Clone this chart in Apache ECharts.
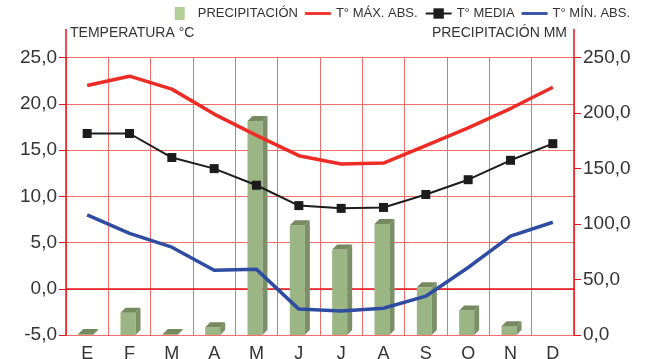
<!DOCTYPE html>
<html>
<head>
<meta charset="utf-8">
<script src="https://cdn.jsdelivr.net/npm/echarts@6/dist/echarts.min.js"></script>
<style>
html,body{margin:0;padding:0;background:#fff;}
#chart{width:649px;height:359px;}
</style>
</head>
<body>
<div id="chart"></div>
<script>
/* climograma: temperaturas + precipitación */
var months = ['E','F','M','A','M','J','J','A','S','O','N','D'];
var precip = [1, 20, 1, 7, 193, 99, 77, 100, 43, 22, 8, 0];
var tMax = [22.0, 23.0, 21.6, 18.9, 16.6, 14.4, 13.5, 13.6, 15.5, 17.4, 19.5, 21.8];
var tMedia = [16.8, 16.8, 14.2, 13.0, 11.2, 9.0, 8.7, 8.8, 10.2, 11.8, 13.9, 15.7];
var tMin = [8.0, 6.0, 4.5, 2.0, 2.1, -2.2, -2.4, -2.1, -0.8, 2.3, 5.7, 7.2];

var FONT = 'Liberation Sans';
var GRID_RED = '#f36b6b';
var AXIS_RED = '#e8141c';
var LINE_ICON = 'path://M0,0h30v3.2h-30z';

function coma(v){
	return v.toFixed(1).replace('.', ',');
}

(function(){
	var myChart = echarts.init(document.getElementById('chart'));

	// barra con aspecto 3D
	function renderBar(params, api){
		var v = api.value(1);
		if (!v) return;
		var top = api.coord([api.value(0), v]);
		var base = api.coord([api.value(0), 0]);
		var x0 = top[0] - 9, x1 = top[0] + 6;
		var dx = 5, dy = 5;
		var yt = top[1], yb = base[1];
		return {
			type: 'group',
			children: [
				{type:'rect', shape:{x:x0, y:yt, width:x1-x0, height:yb-yt}, style:{fill:'#9bb584'}},
				{type:'polygon', shape:{points:[[x1,yt],[x1+dx,yt-dy],[x1+dx,yb-dy],[x1,yb]]}, style:{fill:'#7b9067'}},
				{type:'polygon', shape:{points:[[x0,yt],[x0+dx,yt-dy],[x1+dx,yt-dy],[x1,yt]]}, style:{fill:'#76895f'}}
			]
		};
	}

	var option = {
		animation: false,
		textStyle: {fontFamily: FONT},
		legend: {
			top: 2,
			right: 14,
			itemGap: 7,
			itemWidth: 26,
			itemHeight: 13,
			textStyle: {color:'#333', fontSize:13, fontFamily: FONT},
			data: [
				{name:'PRECIPITACIÓN', icon:'path://M0,0h10v13h-10z', itemStyle:{color:'#b3cf98'}},
				{name:'T° MÁX. ABS.', icon: LINE_ICON},
				{name:'T° MEDIA'},
				{name:'T° MÍN. ABS.', icon: LINE_ICON}
			]
		},
		grid: {left: 66, right: 75, top: 57.7, bottom: 24, outerBoundsMode: 'none', containLabel: false},
		xAxis: [{
			type: 'category',
			data: months,
			boundaryGap: true,
			axisLine: {lineStyle:{color: AXIS_RED, width: 1.5}},
			axisTick: {show: false},
			axisLabel: {color:'#333', fontSize:18, margin:10, fontFamily: FONT},
			splitLine: {show: true, lineStyle:{color: GRID_RED, width: 1}}
		}],
		yAxis: [{
			type: 'value',
			min: -5, max: 25, interval: 5,
			axisLine: {show: true, lineStyle:{color: AXIS_RED, width: 1.5}},
			axisTick: {show: true, length: 7, lineStyle:{color: AXIS_RED}},
			axisLabel: {color:'#333', fontSize:19, margin:9, formatter: coma, fontFamily: FONT},
			splitLine: {show: true, lineStyle:{color: GRID_RED, width: 1}}
		}, {
			type: 'value',
			min: 0, max: 250, interval: 50,
			position: 'right',
			axisLine: {show: true, lineStyle:{color: AXIS_RED, width: 1.5}},
			axisTick: {show: true, length: 7, lineStyle:{color: AXIS_RED}},
			axisLabel: {color:'#333', fontSize:19, margin:9, formatter: coma, fontFamily: FONT},
			splitLine: {show: false}
		}],
		graphic: [
			{type:'line', shape:{x1:66, y1:29, x2:66, y2:58}, style:{stroke: AXIS_RED, lineWidth:1.5}},
			{type:'line', shape:{x1:574, y1:29, x2:574, y2:58}, style:{stroke: AXIS_RED, lineWidth:1.5}},
			{type:'text', left:70, top:26, style:{text:'TEMPERATURA °C', fill:'#333', font:'14px "' + FONT + '"'}},
			{type:'text', right:82, top:26, style:{text:'PRECIPITACIÓN MM', fill:'#333', font:'14px "' + FONT + '"'}}
		],
		series: [
			{
				name: 'PRECIPITACIÓN',
				type: 'custom',
				yAxisIndex: 1,
				itemStyle: {color:'#b3cf98'},
				renderItem: renderBar,
				encode: {x: 0, y: 1},
				data: precip.map(function(v, i){ return [i, v]; }),
				z: 1
			},
			{
				name: 'T° MÁX. ABS.',
				type: 'line',
				data: tMax,
				symbol: 'none',
				itemStyle: {color:'#ee2b24'},
				lineStyle: {color:'#ee2b24', width:3.5},
				z: 3
			},
			{
				name: 'T° MEDIA',
				type: 'line',
				data: tMedia,
				symbol: 'rect',
				symbolSize: 9,
				itemStyle: {color:'#1c1c1c'},
				lineStyle: {color:'#1c1c1c', width:2},
				z: 3
			},
			{
				name: 'T° MÍN. ABS.',
				type: 'line',
				data: tMin,
				symbol: 'none',
				itemStyle: {color:'#2f4ca3'},
				lineStyle: {color:'#2f4ca3', width:3.5},
				z: 3
			}
		]
	};
	myChart.setOption(option);
})();
</script>
</body>
</html>
